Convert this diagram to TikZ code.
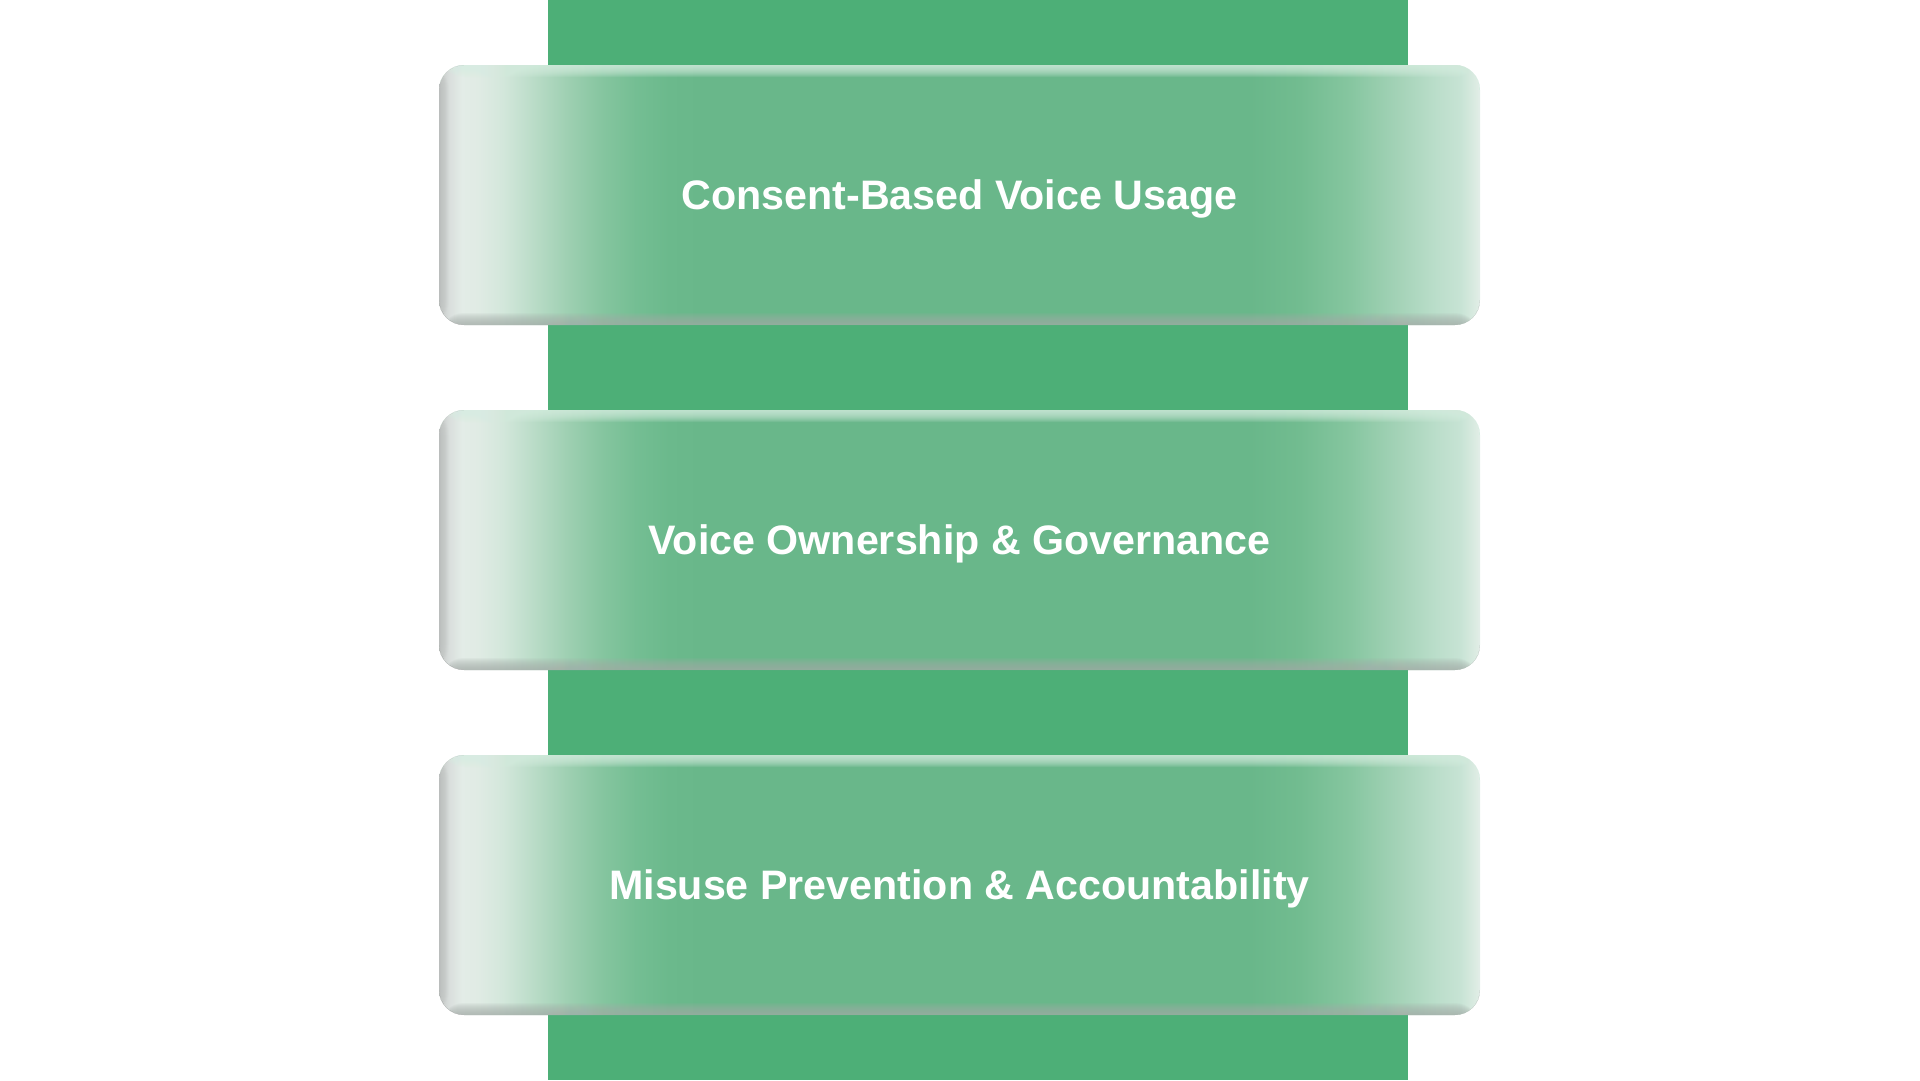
\documentclass[tikz,border=0pt]{standalone}
\usepackage{fontspec}
\setmainfont{Liberation Sans}
\definecolor{strip}{HTML}{4DAF77}
\definecolor{s00}{HTML}{C4C7C6}
\definecolor{s01}{HTML}{D9DEDC}
\definecolor{s02}{HTML}{E3ECE7}
\definecolor{s03}{HTML}{E0EBE4}
\definecolor{s04}{HTML}{D3E7DB}
\definecolor{s05}{HTML}{B8DBC6}
\definecolor{s06}{HTML}{9DCFB1}
\definecolor{s07}{HTML}{85C59F}
\definecolor{s08}{HTML}{74BE93}
\definecolor{s09}{HTML}{6BB98C}
\definecolor{s10}{HTML}{69B78A}
\definecolor{s11}{HTML}{72BC90}
\definecolor{s12}{HTML}{86C6A0}
\definecolor{s13}{HTML}{A5D3B8}
\definecolor{s14}{HTML}{B9DDC9}
\definecolor{s15}{HTML}{C7E3D4}
\definecolor{s16}{HTML}{D8EAE0}
\definecolor{s17}{HTML}{E3EEE8}
\definecolor{rimtop}{HTML}{D8F0E2}
\definecolor{rimbot}{HTML}{A5ADA9}
\definecolor{rimside}{HTML}{B4B8B6}
\pgfdeclarehorizontalshading{boxshade}{100bp}{color(0bp)=(s00); color(25bp)=(s00); color(25.48bp)=(s01); color(26.1bp)=(s02); color(26.87bp)=(s03); color(28.07bp)=(s04); color(29.66bp)=(s05); color(31.24bp)=(s06); color(32.88bp)=(s07); color(34.46bp)=(s08); color(36.05bp)=(s09); color(37.54bp)=(s10); color(63.95bp)=(s10); color(66.35bp)=(s11); color(68.76bp)=(s12); color(71.16bp)=(s13); color(72.74bp)=(s14); color(74.04bp)=(s15); color(74.66bp)=(s16); color(75bp)=(s17); color(100bp)=(s17)}
\tikzset{
  card/.style={shading=boxshade, rounded corners=25pt, inner sep=0pt,
    minimum width=1041pt, minimum height=260pt, text=white, text depth=0pt,
    font=\fontsize{41.2}{48}\selectfont\bfseries,
    path picture={
      \foreach \k in {1,...,12}{
        \fill[rimtop, fill opacity=0.12]
          (path picture bounding box.north west) rectangle ([yshift=-\k pt]path picture bounding box.north east);
        \fill[rimbot, fill opacity=0.1]
          ([yshift=\k pt]path picture bounding box.south west) rectangle (path picture bounding box.south east);
      }
      \foreach \k in {1,...,10}{
        \fill[rimside, fill opacity=0.05]
          (path picture bounding box.north west) rectangle ([xshift=\k pt]path picture bounding box.south west);
      }
    }},
}
\begin{document}
\begin{tikzpicture}[x=1pt,y=-1pt]
\useasboundingbox (0,0) rectangle (1920,1080);
\fill[strip] (548,0) rectangle (1408,1080);
\node[card] (b1) at (959.5,195) {Consent-Based Voice Usage};
\node[card] (b2) at (959.5,540) {Voice Ownership \& Governance};
\node[card] (b3) at (959.5,885) {Misuse Prevention \& Accountability};
\end{tikzpicture}
\end{document}
